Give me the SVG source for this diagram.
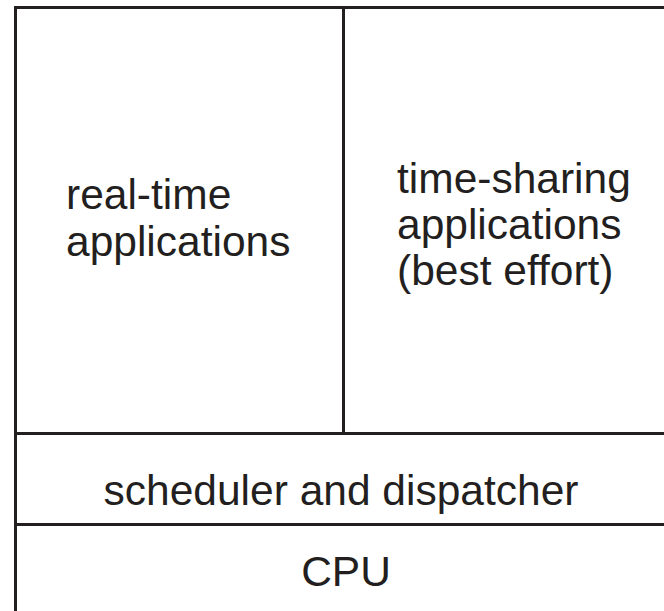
<svg xmlns="http://www.w3.org/2000/svg" width="664" height="611" viewBox="0 0 664 611">
<style>
.ln{stroke:#231f20;stroke-width:3;fill:none}
.t{font-family:"Liberation Sans",Arial,sans-serif;font-size:42.5px;fill:#231f20}
.c{text-anchor:middle}
</style>
<rect width="664" height="611" fill="#fff"/>
<g id="frame">
<path class="ln" d="M14 7.5H664M15.5 6V611"/>
</g>
<g id="connectors">
<path class="ln" d="M343.5 7.5V433.5M15.5 433.5H664M15.5 524.5H664"/>
</g>
<g id="realtime">
<text class="t" x="66" y="209">real-time</text>
<text class="t" x="66" y="256">applications</text>
</g>
<g id="timesharing">
<text class="t" x="397" y="192.5">time-sharing</text>
<text class="t" x="397" y="238.5">applications</text>
<text class="t" x="397" y="284.5">(best effort)</text>
</g>
<g id="scheduler">
<text class="t c" x="341" y="505">scheduler and dispatcher</text>
</g>
<g id="cpu">
<text class="t c" x="346" y="586">CPU</text>
</g>
</svg>
